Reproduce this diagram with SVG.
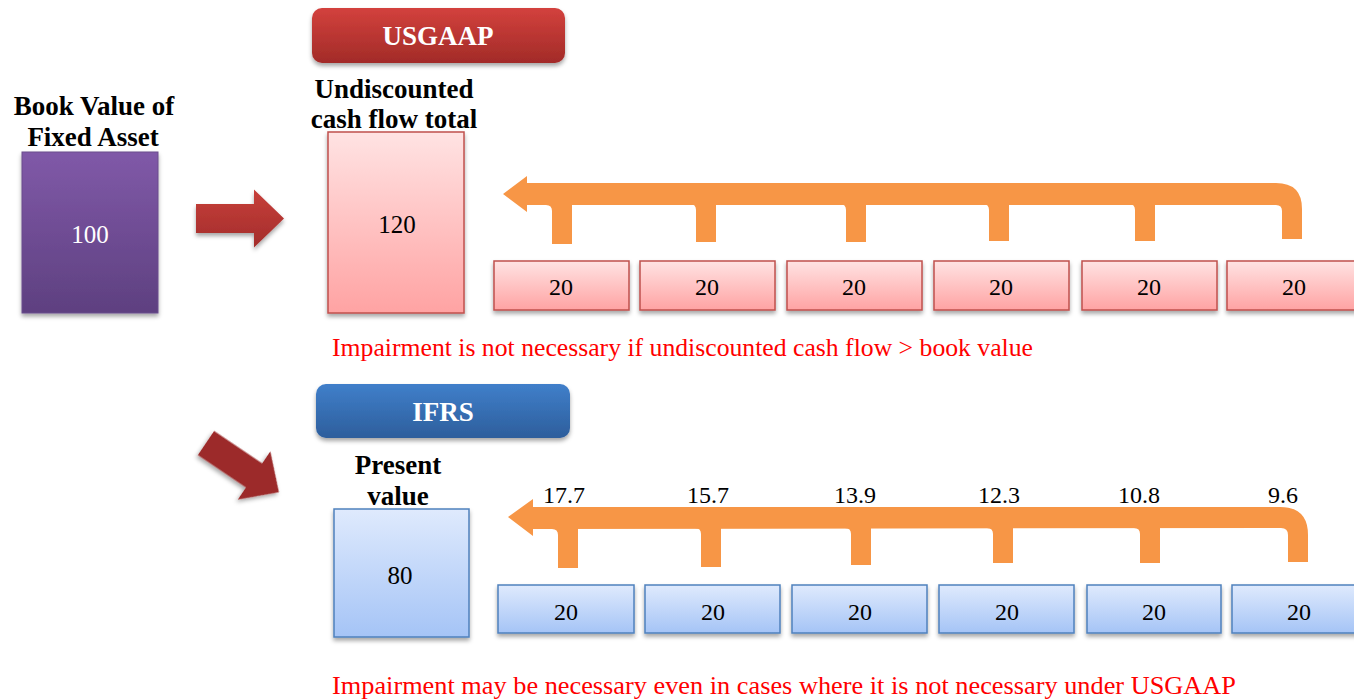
<svg xmlns="http://www.w3.org/2000/svg" width="1354" height="700" viewBox="0 0 1354 700">
  <defs>
    <linearGradient id="gPurple" x1="0" y1="0" x2="0" y2="1">
      <stop offset="0" stop-color="#8059a8"/>
      <stop offset="1" stop-color="#5e4080"/>
    </linearGradient>
    <linearGradient id="gPink" x1="0" y1="0" x2="0" y2="1">
      <stop offset="0" stop-color="#ffe3e3"/>
      <stop offset="1" stop-color="#ffa3a3"/>
    </linearGradient>
    <linearGradient id="gBlue" x1="0" y1="0" x2="0" y2="1">
      <stop offset="0" stop-color="#dfeafd"/>
      <stop offset="1" stop-color="#a5c4f6"/>
    </linearGradient>
    <linearGradient id="gRedBtn" x1="0" y1="0" x2="0" y2="1">
      <stop offset="0" stop-color="#d3413d"/>
      <stop offset="1" stop-color="#a22b28"/>
    </linearGradient>
    <linearGradient id="gBlueBtn" x1="0" y1="0" x2="0" y2="1">
      <stop offset="0" stop-color="#407fca"/>
      <stop offset="1" stop-color="#2d5e9c"/>
    </linearGradient>
    <linearGradient id="gArrow" x1="0" y1="0" x2="0" y2="1">
      <stop offset="0" stop-color="#c73f3a"/>
      <stop offset="1" stop-color="#a32d2b"/>
    </linearGradient>
    <filter id="shadow" x="-10%" y="-10%" width="130%" height="140%">
      <feDropShadow dx="0" dy="3" stdDeviation="2" flood-color="#000" flood-opacity="0.35"/>
    </filter>
    <!-- block arrow pointing along +x, tail centred on the origin -->
    <polygon id="blockArrow" points="0,-14.5 58,-14.5 58,-29 88,0 58,29 58,14.5 0,14.5"/>
  </defs>
  <style>
    .title { font-family: "Liberation Serif", "Times New Roman", serif; font-weight: bold; font-size: 27px; text-anchor: middle; fill: #000; }
    .btn { font-family: "Liberation Serif", "Times New Roman", serif; font-weight: bold; font-size: 27px; text-anchor: middle; fill: #fff; }
    .num { font-family: "Liberation Serif", "Times New Roman", serif; font-size: 24px; text-anchor: middle; fill: #000; }
    .big { font-family: "Liberation Serif", "Times New Roman", serif; font-size: 25px; text-anchor: middle; fill: #000; }
    .note { font-family: "Liberation Serif", "Times New Roman", serif; font-size: 26px; fill: #ff0000; }
    .pink { fill: url(#gPink); stroke: #c0504d; stroke-width: 1.5; filter: url(#shadow); }
    .blue { fill: url(#gBlue); stroke: #4f81bd; stroke-width: 1.5; filter: url(#shadow); }
    .flow { fill: #f79646; }
  </style>

  <!-- book value -->
  <g id="book-value">
    <text class="title" x="94" y="115">Book Value of</text>
    <text class="title" x="93" y="146">Fixed Asset</text>
    <rect x="22" y="152" width="136" height="161" fill="url(#gPurple)" stroke="#6a4d8c" stroke-width="1" filter="url(#shadow)"/>
    <text class="big" x="90" y="243" style="fill:#fff">100</text>
  </g>

  <!-- pointer arrows -->
  <g id="pointers">
    <use href="#blockArrow" transform="translate(196,218.5)" fill="url(#gArrow)" filter="url(#shadow)"/>
    <use href="#blockArrow" transform="translate(206,443) rotate(34)" fill="#9c2c2c" filter="url(#shadow)"/>
  </g>

  <!-- USGAAP -->
  <g id="usgaap-header">
    <rect x="312" y="8" width="253" height="55" rx="10" fill="url(#gRedBtn)" filter="url(#shadow)"/>
    <text class="btn" x="438" y="45">USGAAP</text>
  </g>
  <g id="usgaap-total">
    <text class="title" x="394" y="98">Undiscounted</text>
    <text class="title" x="394" y="128">cash flow total</text>
    <rect class="pink" x="328" y="132" width="136" height="181"/>
    <text class="big" x="397" y="233">120</text>
  </g>

  <g id="usgaap-flows" class="connectors">
    <path class="flow" d="M503,194 L527,176 L527,183 L1276,183 Q1302,183 1302,209 L1302,239 L1282,239 L1282,211 Q1282,205 1276,205 L527,205 L527,212 Z"/>
    <path class="flow" d="M546,204 L572,204 L572,244 L552,244 L552,211 Q552,205 546,205 Z"/>
    <path class="flow" d="M689,203 L716,203 L716,242 L696,242 L696,210 Q696,204 690,204 Z"/>
    <path class="flow" d="M840,203 L866,203 L866,242 L846,242 L846,210 Q846,204 840,204 Z"/>
    <path class="flow" d="M983,203 L1009,203 L1009,241 L989,241 L989,210 Q989,204 983,204 Z"/>
    <path class="flow" d="M1129,203 L1155,203 L1155,241 L1135,241 L1135,210 Q1135,204 1129,204 Z"/>
  </g>

  <g id="usgaap-cf1"><rect class="pink" x="494" y="261" width="135" height="49"/><text class="num" x="561" y="295">20</text></g>
  <g id="usgaap-cf2"><rect class="pink" x="640" y="261" width="135" height="49"/><text class="num" x="707" y="295">20</text></g>
  <g id="usgaap-cf3"><rect class="pink" x="787" y="261" width="135" height="49"/><text class="num" x="854" y="295">20</text></g>
  <g id="usgaap-cf4"><rect class="pink" x="934" y="261" width="135" height="49"/><text class="num" x="1001" y="295">20</text></g>
  <g id="usgaap-cf5"><rect class="pink" x="1082" y="261" width="135" height="49"/><text class="num" x="1149" y="295">20</text></g>
  <g id="usgaap-cf6"><rect class="pink" x="1227" y="261" width="135" height="49"/><text class="num" x="1294" y="295">20</text></g>

  <text class="note" x="332" y="356" textLength="701" lengthAdjust="spacingAndGlyphs">Impairment is not necessary if undiscounted cash flow &gt; book value</text>

  <!-- IFRS -->
  <g id="ifrs-header">
    <rect x="316" y="384" width="254" height="54" rx="10" fill="url(#gBlueBtn)" filter="url(#shadow)"/>
    <text class="btn" x="443" y="421">IFRS</text>
  </g>
  <g id="ifrs-total">
    <text class="title" x="398" y="474">Present</text>
    <text class="title" x="398" y="505">value</text>
    <rect class="blue" x="334" y="509" width="135" height="128"/>
    <text class="big" x="400" y="584">80</text>
  </g>

  <g id="ifrs-flows" class="connectors">
    <path class="flow" d="M508,517 L533,499 L533,507 L1280,507 Q1308,507 1308,535 L1308,562 L1288,562 L1288,535 Q1288,528 1281,528 L533,529 L533,536 Z"/>
    <path class="flow" d="M552,528 L578,528 L578,568 L558,568 L558,535 Q558,529 552,529 Z"/>
    <path class="flow" d="M695,528 L721,528 L721,567 L701,567 L701,534 Q701,528 695,528 Z"/>
    <path class="flow" d="M845,527 L871,527 L871,565 L851,565 L851,534 Q851,528 845,528 Z"/>
    <path class="flow" d="M987,527 L1013,527 L1013,563 L993,563 L993,534 Q993,528 987,528 Z"/>
    <path class="flow" d="M1134,527 L1160,527 L1160,563 L1140,563 L1140,534 Q1140,528 1134,528 Z"/>
  </g>

  <g id="pv-labels">
    <text class="num" x="564" y="503">17.7</text>
    <text class="num" x="708" y="503">15.7</text>
    <text class="num" x="855" y="503">13.9</text>
    <text class="num" x="999" y="503">12.3</text>
    <text class="num" x="1139" y="503">10.8</text>
    <text class="num" x="1283" y="503">9.6</text>
  </g>

  <g id="ifrs-cf1"><rect class="blue" x="498" y="585" width="136" height="48"/><text class="num" x="566" y="620">20</text></g>
  <g id="ifrs-cf2"><rect class="blue" x="645" y="585" width="135" height="48"/><text class="num" x="713" y="620">20</text></g>
  <g id="ifrs-cf3"><rect class="blue" x="792" y="585" width="135" height="48"/><text class="num" x="860" y="620">20</text></g>
  <g id="ifrs-cf4"><rect class="blue" x="939" y="585" width="135" height="48"/><text class="num" x="1007" y="620">20</text></g>
  <g id="ifrs-cf5"><rect class="blue" x="1087" y="585" width="134" height="48"/><text class="num" x="1154" y="620">20</text></g>
  <g id="ifrs-cf6"><rect class="blue" x="1232" y="585" width="135" height="48"/><text class="num" x="1299" y="620">20</text></g>

  <text class="note" x="332" y="694" textLength="904" lengthAdjust="spacingAndGlyphs">Impairment may be necessary even in cases where it is not necessary under USGAAP</text>
</svg>
